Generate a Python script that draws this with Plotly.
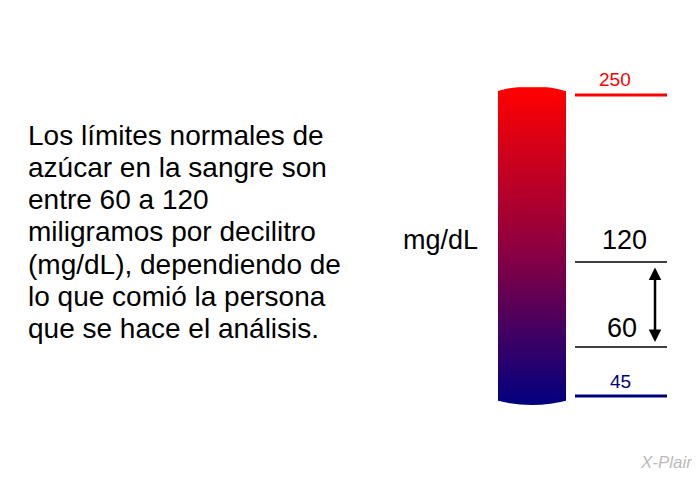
import numpy as np
import plotly.graph_objects as go

levels = [250, 120, 60, 45]
level_labels = ["250", "120", "60", "45"]
level_colors = ["#ff0000", "#000000", "#000000", "#00007f"]
level_y = [95, 262, 347, 396]       # vertical placement on the illustration
label_y = [79, 240, 328, 381]
label_x = [615, 624, 622, 620]
label_size = [19, 27, 27, 19]
line_width = [3, 1.5, 1.5, 3]
text_lines = ["Los límites normales de", "azúcar en la sangre son", "entre 60 a 120",
              "miligramos por decilitro", "(mg/dL), dependiendo de",
              "lo que comió la persona", "que se hace el análisis."]

fig = go.Figure()
ys = np.linspace(88, 406, 200)
fig.add_trace(go.Heatmap(x=[515, 549], y=ys, z=np.tile(ys[:, None], (1, 2)),
    colorscale=[[0, "#ff0000"], [0.5, "#8e0040"], [1, "#00007f"]],
    showscale=False, hoverinfo="skip"))
for v, y, c, w in zip(levels, level_y, level_colors, line_width):
    fig.add_shape(type="line", x0=575, x1=667, y0=y, y1=y, line=dict(color=c, width=w))
for t, x, y, c, s in zip(level_labels, label_x, label_y, level_colors, label_size):
    fig.add_annotation(x=x, y=y, text=t, showarrow=False, font=dict(size=s, color=c))
fig.add_shape(type="path", path="M 495 86 L 569 86 L 569 92 Q 532 80 495 92 Z", fillcolor="white", line_width=0)
fig.add_shape(type="path", path="M 495 410 L 569 410 L 569 400 Q 532 410 495 400 Z", fillcolor="white", line_width=0)
fig.add_annotation(x=655, y=342, ax=655, ay=266, xref="x", yref="y", axref="x", ayref="y",
    text="", showarrow=True, arrowhead=2, arrowside="end+start", arrowwidth=2.5, arrowsize=1, arrowcolor="black")
fig.add_annotation(x=440, y=240, text="mg/dL", showarrow=False, font=dict(size=27, color="black"))
for i, line in enumerate(text_lines):
    fig.add_annotation(x=26, y=135 + i * 32.3, text=line, showarrow=False, xanchor="left",
        font=dict(size=28, color="black"))
fig.add_annotation(x=698, y=462, text="<i>X-Plain</i>", showarrow=False, xanchor="right",
    font=dict(size=17, color="#bbbbbb"))

fig.update_layout(width=700, height=480, margin=dict(l=0, r=0, t=0, b=0),
    plot_bgcolor="white", paper_bgcolor="white",
    font=dict(family="Liberation Sans, Arial"),
    xaxis=dict(range=[8, 708], visible=False),
    yaxis=dict(range=[488, 8], visible=False))
fig.write_html("out.html")
